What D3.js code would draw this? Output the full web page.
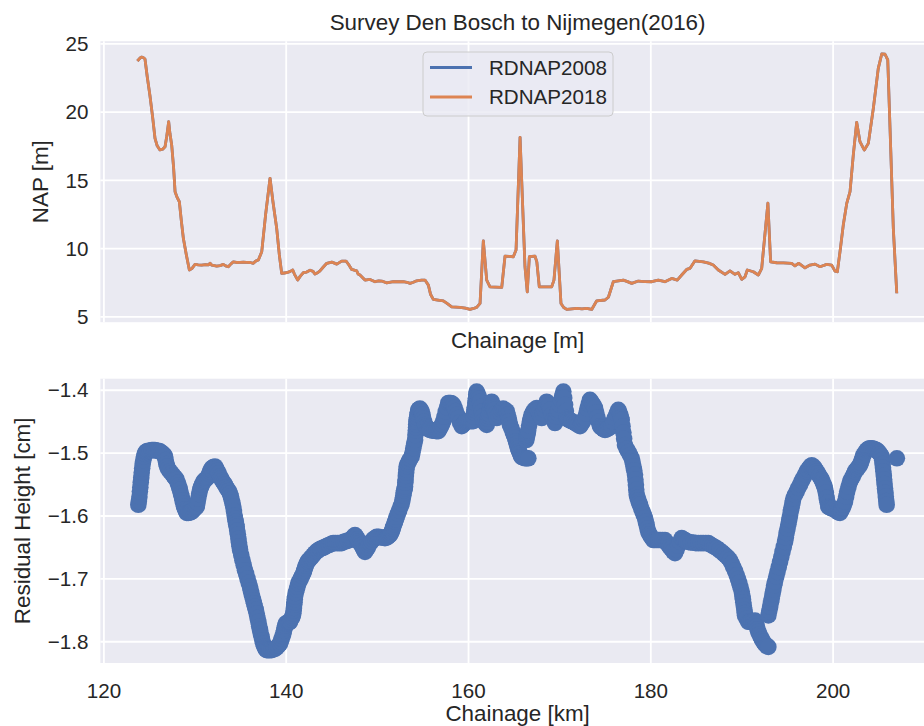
<!DOCTYPE html>
<html>
<head>
<meta charset="utf-8">
<script src="https://cdn.jsdelivr.net/npm/d3@7/dist/d3.min.js"></script>
<style>
  html, body { margin: 0; padding: 0; background: #ffffff; }
  svg { display: block; }
  text { font-family: "Liberation Sans", Arial, sans-serif; fill: #262626; }
</style>
</head>
<body>
<svg id="chart" width="924" height="726"></svg>
<script>
// ---- Survey profile: chainage [km] and NAP height [m] in both datums ----
const profileKm = [
  123.83, 124.05, 124.2, 124.4, 124.56, 124.8, 125.1, 125.4, 125.66, 125.9,
  126.2, 126.5, 126.76, 126.95, 127.16, 127.3, 127.49, 127.7, 127.86, 128.1,
  128.33, 128.55, 128.77, 129.1, 129.43, 129.7, 130.05, 130.4, 130.78, 131.2,
  131.55, 131.7, 131.9, 132.43, 132.8, 133.15, 133.4, 133.7, 134.0, 134.25,
  134.6, 134.99, 135.35, 135.72, 136.1, 136.45, 136.7, 137.0, 137.37, 137.8,
  138.28, 138.6, 139.01, 139.3, 139.56, 139.85, 140.11, 140.5, 140.77, 140.95,
  141.32, 141.6, 141.93, 142.3, 142.67, 143.0, 143.2, 143.5, 143.76, 144.1,
  144.5, 145.05, 145.35, 145.6, 146.14, 146.62, 146.9, 147.24, 147.79, 147.95,
  148.15, 148.5, 148.7, 149.25, 149.8, 150.2, 150.53, 151.08, 151.8, 152.4,
  152.9, 153.3, 153.64, 154.0, 154.37, 154.9, 155.28, 155.65, 155.9, 156.19,
  156.7, 157.29, 157.7, 158.21, 159.12, 159.7, 160.22, 160.6, 160.95, 161.32,
  161.68, 162.05, 162.41, 163.0, 163.7, 164.06, 164.5, 164.97, 165.27, 165.71,
  166.25, 166.5, 166.73, 167.0, 167.35, 167.55, 167.82, 168.5, 169.18, 169.43,
  169.8, 170.2, 170.5, 170.83, 171.4, 171.93, 172.5, 173.02, 173.57, 174.12,
  175.03, 175.4, 175.94, 176.5, 177.04, 177.5, 177.96, 178.68, 179.4, 180.15,
  180.88, 181.6, 182.35, 182.96, 183.44, 183.99, 184.36, 184.9, 185.82, 186.4,
  186.91, 187.46, 188.2, 188.74, 189.29, 189.65, 190.03, 190.39, 190.64, 191.3,
  191.85, 192.22, 192.9, 193.2, 193.87, 194.6, 195.51, 195.87, 196.3, 196.97,
  197.52, 198.07, 198.62, 199.35, 199.9, 200.26, 200.52, 200.81, 201.17, 201.55,
  201.91, 202.27, 202.64, 203.0, 203.48, 203.92, 204.47, 205.01, 205.39, 205.75,
  206.05, 206.3, 206.66, 207.03
];

const nap2008 = [
  23.79, 23.95, 24.0, 23.95, 23.86, 22.6, 21.2, 19.6, 18.05, 17.5,
  17.2, 17.25, 17.43, 18.2, 19.27, 18.4, 17.56, 15.9, 14.14, 13.7,
  13.4, 12.0, 10.72, 9.5, 8.4, 8.5, 8.81, 8.78, 8.76, 8.8,
  8.78, 8.89, 8.75, 8.69, 8.72, 8.81, 8.7, 8.64, 8.85, 9.0,
  8.95, 8.96, 8.97, 8.96, 8.95, 8.89, 9.05, 9.13, 9.74, 12.5,
  15.12, 13.4, 11.45, 9.5, 8.15, 8.18, 8.2, 8.3, 8.4, 8.1,
  7.66, 7.95, 8.2, 8.25, 8.38, 8.3, 8.1, 8.2, 8.34, 8.6,
  8.89, 8.98, 8.9, 8.83, 9.05, 9.05, 8.8, 8.44, 8.34, 8.1,
  8.03, 7.8, 7.66, 7.71, 7.54, 7.6, 7.59, 7.46, 7.54, 7.55,
  7.54, 7.5, 7.42, 7.5, 7.61, 7.65, 7.66, 7.29, 6.6, 6.25,
  6.2, 6.14, 5.95, 5.7, 5.66, 5.6, 5.51, 5.58, 5.66, 5.95,
  10.54, 7.66, 7.17, 7.15, 7.13, 9.42, 9.4, 9.37, 9.86, 18.12,
  8.64, 6.8, 9.37, 9.4, 9.42, 9.0, 7.17, 7.17, 7.17, 7.66,
  10.54, 5.95, 5.65, 5.51, 5.55, 5.59, 5.55, 5.59, 5.51, 6.14,
  6.2, 6.4, 7.54, 7.6, 7.66, 7.55, 7.42, 7.59, 7.55, 7.54,
  7.66, 7.54, 7.78, 7.66, 8.03, 8.44, 8.52, 9.07, 9.0, 8.9,
  8.76, 8.4, 8.08, 8.34, 8.08, 8.2, 7.71, 7.9, 8.4, 8.27,
  8.03, 8.52, 13.3, 9.0, 8.93, 8.92, 8.89, 8.71, 8.89, 8.56,
  8.76, 8.83, 8.64, 8.81, 8.76, 8.32, 8.27, 9.74, 11.69, 13.28,
  14.14, 16.83, 19.22, 17.8, 17.19, 17.68, 20.25, 23.18, 24.23, 24.21,
  23.79, 18.78, 11.45, 6.8
];

const nap2018 = [
  23.79, 23.95, 24.0, 23.95, 23.86, 22.6, 21.2, 19.6, 18.05, 17.5,
  17.2, 17.25, 17.43, 18.2, 19.27, 18.4, 17.56, 15.9, 14.14, 13.7,
  13.4, 12.0, 10.72, 9.5, 8.4, 8.5, 8.81, 8.78, 8.76, 8.8,
  8.78, 8.89, 8.75, 8.69, 8.72, 8.81, 8.7, 8.64, 8.85, 9.0,
  8.95, 8.96, 8.97, 8.96, 8.95, 8.89, 9.05, 9.13, 9.74, 12.5,
  15.12, 13.4, 11.45, 9.5, 8.15, 8.18, 8.2, 8.3, 8.4, 8.1,
  7.66, 7.95, 8.2, 8.25, 8.38, 8.3, 8.1, 8.2, 8.34, 8.6,
  8.89, 8.98, 8.9, 8.83, 9.05, 9.05, 8.8, 8.44, 8.34, 8.1,
  8.03, 7.8, 7.66, 7.71, 7.54, 7.6, 7.59, 7.46, 7.54, 7.55,
  7.54, 7.5, 7.42, 7.5, 7.61, 7.65, 7.66, 7.29, 6.6, 6.25,
  6.2, 6.14, 5.95, 5.7, 5.66, 5.6, 5.51, 5.58, 5.66, 5.95,
  10.54, 7.66, 7.17, 7.15, 7.13, 9.42, 9.4, 9.37, 9.86, 18.12,
  8.64, 6.8, 9.37, 9.4, 9.42, 9.0, 7.17, 7.17, 7.17, 7.66,
  10.54, 5.95, 5.65, 5.51, 5.55, 5.59, 5.55, 5.59, 5.51, 6.14,
  6.2, 6.4, 7.54, 7.6, 7.66, 7.55, 7.42, 7.59, 7.55, 7.54,
  7.66, 7.54, 7.78, 7.66, 8.03, 8.44, 8.52, 9.07, 9.0, 8.9,
  8.76, 8.4, 8.08, 8.34, 8.08, 8.2, 7.71, 7.9, 8.4, 8.27,
  8.03, 8.52, 13.3, 9.0, 8.93, 8.92, 8.89, 8.71, 8.89, 8.56,
  8.76, 8.83, 8.64, 8.81, 8.76, 8.32, 8.27, 9.74, 11.69, 13.28,
  14.14, 16.83, 19.22, 17.8, 17.19, 17.68, 20.25, 23.18, 24.23, 24.21,
  23.79, 18.78, 11.45, 6.8
];

// ---- Residual height between the datums: [chainage km, residual cm] ----
const residualPoints = [
  [123.83,-1.583],[123.89,-1.577],[123.95,-1.570],[124.0,-1.562],[124.05,-1.555],[124.1,-1.547],[124.15,-1.540],[124.2,-1.532],[124.25,-1.525],[124.31,-1.518],
  [124.38,-1.512],[124.46,-1.506],[124.55,-1.502],[124.65,-1.499],[124.75,-1.498],[124.92,-1.497],[125.1,-1.497],[125.3,-1.496],[125.47,-1.496],[125.65,-1.496],
  [125.85,-1.497],[126.02,-1.497],[126.2,-1.498],[126.38,-1.500],[126.55,-1.502],[126.66,-1.504],[126.76,-1.506],[126.83,-1.512],[126.9,-1.518],[127.0,-1.522],
  [127.1,-1.526],[127.3,-1.530],[127.49,-1.533],[127.65,-1.536],[127.8,-1.539],[127.92,-1.541],[128.04,-1.543],[128.15,-1.548],[128.25,-1.552],[128.33,-1.556],
  [128.4,-1.559],[128.5,-1.565],[128.6,-1.570],[128.68,-1.576],[128.77,-1.581],[128.86,-1.586],[128.95,-1.590],[129.05,-1.593],[129.14,-1.596],[129.3,-1.596],
  [129.45,-1.595],[129.57,-1.595],[129.69,-1.594],[129.82,-1.592],[129.95,-1.590],[130.1,-1.588],[130.24,-1.586],[130.32,-1.580],[130.4,-1.573],[130.5,-1.566],
  [130.6,-1.559],[130.7,-1.555],[130.8,-1.551],[130.96,-1.546],[131.1,-1.544],[131.25,-1.542],[131.38,-1.540],[131.51,-1.538],[131.6,-1.534],[131.7,-1.530],
  [131.8,-1.527],[131.88,-1.525],[132.05,-1.523],[132.24,-1.522],[132.37,-1.525],[132.5,-1.529],[132.65,-1.533],[132.79,-1.538],[132.92,-1.541],[133.05,-1.545],
  [133.2,-1.548],[133.34,-1.551],[133.47,-1.555],[133.6,-1.558],[133.75,-1.561],[133.89,-1.565],[133.97,-1.569],[134.05,-1.574],[134.15,-1.580],[134.25,-1.586],
  [134.32,-1.593],[134.4,-1.600],[134.46,-1.605],[134.52,-1.610],[134.57,-1.614],[134.62,-1.618],[134.68,-1.624],[134.75,-1.630],[134.81,-1.637],[134.87,-1.643],
  [134.93,-1.649],[134.99,-1.655],[135.12,-1.663],[135.25,-1.671],[135.39,-1.679],[135.53,-1.687],[135.66,-1.693],[135.8,-1.700],[135.94,-1.707],[136.08,-1.713],
  [136.16,-1.719],[136.25,-1.724],[136.35,-1.730],[136.45,-1.735],[136.54,-1.740],[136.63,-1.745],[136.72,-1.750],[136.82,-1.756],[136.91,-1.763],[137.0,-1.769],
  [137.09,-1.776],[137.18,-1.782],[137.27,-1.788],[137.36,-1.793],[137.45,-1.799],[137.54,-1.804],[137.64,-1.808],[137.75,-1.811],[137.83,-1.813],[137.91,-1.814],
  [138.08,-1.814],[138.25,-1.814],[138.45,-1.814],[138.64,-1.813],[138.82,-1.812],[139.0,-1.810],[139.18,-1.807],[139.37,-1.804],[139.46,-1.800],[139.55,-1.796],
  [139.65,-1.792],[139.74,-1.788],[139.81,-1.783],[139.88,-1.779],[139.94,-1.775],[140.0,-1.772],[140.12,-1.771],[140.25,-1.770],[140.36,-1.770],[140.47,-1.769],
  [140.58,-1.765],[140.7,-1.762],[140.77,-1.759],[140.83,-1.756],[140.87,-1.751],[140.9,-1.747],[140.93,-1.742],[140.96,-1.738],[140.99,-1.733],[141.02,-1.729],
  [141.11,-1.723],[141.2,-1.718],[141.29,-1.713],[141.38,-1.708],[141.52,-1.704],[141.65,-1.700],[141.79,-1.696],[141.93,-1.692],[142.02,-1.688],[142.1,-1.684],
  [142.2,-1.680],[142.3,-1.676],[142.42,-1.673],[142.55,-1.671],[142.7,-1.668],[142.85,-1.666],[143.02,-1.663],[143.2,-1.660],[143.4,-1.657],[143.58,-1.655],
  [143.8,-1.653],[144.0,-1.652],[144.15,-1.651],[144.31,-1.650],[144.53,-1.648],[144.75,-1.647],[145.0,-1.645],[145.22,-1.644],[145.45,-1.644],[145.7,-1.644],
  [145.92,-1.644],[146.14,-1.644],[146.37,-1.642],[146.6,-1.641],[146.82,-1.640],[147.05,-1.639],[147.2,-1.637],[147.35,-1.635],[147.47,-1.633],[147.6,-1.631],
  [147.75,-1.634],[147.9,-1.638],[148.02,-1.641],[148.15,-1.644],[148.3,-1.647],[148.45,-1.651],[148.58,-1.655],[148.7,-1.658],[148.85,-1.654],[149.0,-1.651],
  [149.12,-1.647],[149.25,-1.644],[149.42,-1.641],[149.6,-1.638],[149.8,-1.636],[149.98,-1.634],[150.2,-1.634],[150.45,-1.635],[150.67,-1.635],[150.89,-1.636],
  [151.05,-1.635],[151.2,-1.634],[151.32,-1.632],[151.44,-1.631],[151.55,-1.628],[151.65,-1.625],[151.72,-1.621],[151.8,-1.618],[151.9,-1.614],[152.0,-1.610],
  [152.09,-1.606],[152.18,-1.602],[152.31,-1.597],[152.45,-1.592],[152.59,-1.586],[152.73,-1.581],[152.82,-1.575],[152.9,-1.568],[152.95,-1.564],[153.0,-1.560],
  [153.05,-1.557],[153.09,-1.554],[153.12,-1.548],[153.15,-1.543],[153.18,-1.537],[153.21,-1.532],[153.24,-1.527],[153.27,-1.522],[153.38,-1.518],[153.5,-1.514],
  [153.66,-1.510],[153.82,-1.506],[153.91,-1.500],[154.0,-1.493],[154.1,-1.486],[154.19,-1.480],[154.23,-1.472],[154.27,-1.465],[154.3,-1.460],[154.32,-1.455],
  [154.35,-1.451],[154.37,-1.448],[154.41,-1.444],[154.45,-1.440],[154.5,-1.436],[154.55,-1.432],[154.63,-1.431],[154.72,-1.430],[154.82,-1.432],[154.92,-1.435],
  [155.01,-1.440],[155.1,-1.446],[155.19,-1.451],[155.28,-1.456],[155.41,-1.459],[155.55,-1.461],[155.69,-1.463],[155.83,-1.464],[156.07,-1.465],[156.3,-1.465],
  [156.52,-1.466],[156.74,-1.466],[156.87,-1.463],[157.0,-1.459],[157.15,-1.455],[157.29,-1.450],[157.42,-1.443],[157.55,-1.435],[157.7,-1.428],[157.84,-1.421],
  [157.97,-1.421],[158.1,-1.421],[158.25,-1.422],[158.39,-1.424],[158.52,-1.429],[158.65,-1.434],[158.8,-1.440],[158.94,-1.445],[159.12,-1.452],[159.31,-1.458],
  [159.45,-1.456],[159.6,-1.453],[159.73,-1.451],[159.86,-1.450],[160.03,-1.450],[160.2,-1.450],[160.4,-1.450],[160.58,-1.450],[160.63,-1.443],[160.67,-1.436],
  [160.71,-1.432],[160.75,-1.428],[160.8,-1.421],[160.85,-1.414],[160.9,-1.408],[160.95,-1.403],[161.05,-1.406],[161.15,-1.410],[161.24,-1.414],[161.32,-1.419],
  [161.41,-1.427],[161.5,-1.435],[161.59,-1.443],[161.68,-1.450],[161.87,-1.453],[162.05,-1.456],[162.12,-1.451],[162.18,-1.446],[162.24,-1.442],[162.3,-1.438],
  [162.38,-1.433],[162.45,-1.428],[162.52,-1.424],[162.6,-1.419],[162.68,-1.423],[162.75,-1.426],[162.83,-1.429],[162.9,-1.432],[163.02,-1.438],[163.15,-1.445],
  [163.32,-1.440],[163.5,-1.436],[163.68,-1.432],[163.85,-1.430],[164.05,-1.432],[164.25,-1.434],[164.35,-1.440],[164.45,-1.445],[164.52,-1.450],[164.6,-1.456],
  [164.75,-1.461],[164.9,-1.467],[165.03,-1.472],[165.17,-1.477],[165.26,-1.482],[165.35,-1.486],[165.42,-1.490],[165.5,-1.494],[165.6,-1.498],[165.7,-1.501],
  [165.8,-1.505],[165.9,-1.507],[166.07,-1.508],[166.25,-1.509],[166.43,-1.509],[166.62,-1.509],
  [166.4,-1.480],[166.45,-1.475],[166.5,-1.472],[166.55,-1.468],[166.6,-1.465],[166.7,-1.457],[166.8,-1.450],[166.89,-1.445],[166.98,-1.440],[167.11,-1.436],
  [167.25,-1.433],[167.4,-1.431],[167.54,-1.429],[167.67,-1.433],[167.8,-1.437],[167.94,-1.441],[168.08,-1.445],[168.22,-1.438],[168.35,-1.432],[168.49,-1.425],
  [168.63,-1.419],[168.77,-1.422],[168.9,-1.425],[169.05,-1.432],[169.2,-1.440],[169.37,-1.447],[169.54,-1.453],[169.62,-1.448],[169.7,-1.443],[169.8,-1.437],
  [169.9,-1.432],[170.05,-1.424],[170.2,-1.417],[170.33,-1.410],[170.46,-1.403],[170.55,-1.413],[170.65,-1.424],[170.74,-1.434],[170.83,-1.445],[170.97,-1.447],
  [171.1,-1.448],[171.24,-1.449],[171.38,-1.450],[171.62,-1.452],[171.85,-1.454],[172.07,-1.456],[172.29,-1.458],[172.42,-1.455],[172.55,-1.452],[172.7,-1.448],
  [172.84,-1.445],[172.97,-1.438],[173.1,-1.430],[173.24,-1.423],[173.38,-1.416],[173.51,-1.419],[173.65,-1.422],[173.79,-1.425],[173.93,-1.429],[174.06,-1.436],
  [174.2,-1.444],[174.34,-1.451],[174.48,-1.458],[174.62,-1.460],[174.75,-1.461],[174.89,-1.463],[175.03,-1.464],[175.22,-1.463],[175.4,-1.461],[175.58,-1.460],
  [175.76,-1.458],[175.93,-1.451],[176.1,-1.445],[176.3,-1.438],[176.49,-1.432],[176.6,-1.436],[176.7,-1.440],[176.78,-1.444],[176.86,-1.448],[176.95,-1.458],
  [177.05,-1.468],[177.13,-1.478],[177.22,-1.488],[177.41,-1.494],[177.6,-1.499],[177.78,-1.504],[177.96,-1.509],[178.05,-1.515],[178.15,-1.522],[178.23,-1.528],
  [178.32,-1.535],[178.37,-1.543],[178.42,-1.551],[178.46,-1.559],[178.51,-1.567],[178.6,-1.572],[178.7,-1.576],[178.78,-1.580],[178.87,-1.583],[179.01,-1.589],
  [179.15,-1.594],[179.28,-1.599],[179.42,-1.604],[179.51,-1.610],[179.6,-1.615],[179.69,-1.621],[179.78,-1.626],[179.91,-1.630],[180.05,-1.633],[180.19,-1.636],
  [180.33,-1.639],[180.5,-1.639],[180.7,-1.639],[180.9,-1.639],[181.1,-1.639],[181.35,-1.639],[181.61,-1.639],[181.78,-1.643],[181.95,-1.646],[182.12,-1.650],
  [182.3,-1.653],[182.5,-1.657],[182.71,-1.660],[182.88,-1.654],[183.05,-1.648],[183.25,-1.642],[183.44,-1.636],[183.62,-1.638],[183.8,-1.639],[183.98,-1.641],
  [184.17,-1.642],[184.45,-1.643],[184.7,-1.643],[185.0,-1.644],[185.27,-1.644],[185.55,-1.644],[185.8,-1.644],[186.08,-1.644],[186.36,-1.644],[186.58,-1.646],
  [186.8,-1.648],[187.05,-1.650],[187.29,-1.652],[187.56,-1.655],[187.83,-1.658],[188.07,-1.661],[188.3,-1.664],[188.52,-1.667],[188.74,-1.671],[188.92,-1.676],
  [189.1,-1.682],[189.29,-1.688],[189.48,-1.695],[189.62,-1.701],[189.75,-1.707],[189.89,-1.714],[190.03,-1.721],[190.1,-1.728],[190.16,-1.733],[190.2,-1.738],
  [190.26,-1.744],[190.32,-1.750],[190.36,-1.755],[190.39,-1.759],[190.57,-1.764],[190.75,-1.769],[190.92,-1.769],[191.1,-1.768],[191.3,-1.768],[191.49,-1.767],
  [191.58,-1.772],[191.68,-1.776],[191.76,-1.781],[191.85,-1.785],[191.97,-1.789],[192.1,-1.793],[192.25,-1.797],[192.4,-1.801],[192.55,-1.804],[192.7,-1.806],
  [192.82,-1.808],[192.95,-1.809],
  [192.95,-1.759],[193.05,-1.752],[193.15,-1.745],[193.24,-1.738],[193.32,-1.732],[193.41,-1.725],[193.5,-1.718],[193.59,-1.711],[193.68,-1.705],[193.82,-1.697],
  [193.95,-1.690],[194.09,-1.682],[194.23,-1.674],[194.37,-1.666],[194.5,-1.658],[194.64,-1.650],[194.78,-1.642],[194.87,-1.635],[194.95,-1.628],[195.05,-1.621],
  [195.15,-1.614],[195.24,-1.607],[195.33,-1.600],[195.42,-1.593],[195.5,-1.587],[195.6,-1.580],[195.69,-1.573],[195.87,-1.567],[196.05,-1.562],[196.24,-1.556],
  [196.43,-1.551],[196.62,-1.545],[196.8,-1.540],[196.98,-1.535],[197.16,-1.530],[197.3,-1.527],[197.45,-1.524],[197.58,-1.522],[197.71,-1.520],[197.85,-1.522],
  [198.0,-1.524],[198.13,-1.527],[198.26,-1.530],[198.4,-1.533],[198.55,-1.537],[198.68,-1.540],[198.81,-1.543],[198.9,-1.546],[199.0,-1.550],[199.08,-1.553],
  [199.17,-1.557],[199.26,-1.564],[199.35,-1.572],[199.44,-1.579],[199.53,-1.586],[199.66,-1.587],[199.8,-1.588],[199.94,-1.589],[200.08,-1.589],[200.27,-1.591],
  [200.45,-1.593],[200.63,-1.595],[200.81,-1.596],[200.95,-1.592],[201.1,-1.588],[201.23,-1.583],[201.36,-1.578],[201.48,-1.570],[201.6,-1.562],[201.75,-1.554],
  [201.91,-1.546],[202.05,-1.542],[202.2,-1.538],[202.33,-1.534],[202.46,-1.530],[202.6,-1.527],[202.75,-1.525],[202.88,-1.522],[203.0,-1.520],[203.1,-1.516],
  [203.2,-1.512],[203.28,-1.508],[203.37,-1.504],[203.55,-1.500],[203.74,-1.496],[203.92,-1.494],[204.1,-1.493],[204.3,-1.493],[204.5,-1.494],[204.67,-1.495],
  [204.83,-1.496],[204.97,-1.498],[205.1,-1.500],[205.25,-1.503],[205.39,-1.506],[205.44,-1.512],[205.48,-1.518],[205.53,-1.524],[205.57,-1.530],[205.62,-1.537],
  [205.66,-1.543],[205.7,-1.550],[205.75,-1.557],[205.8,-1.564],[205.84,-1.570],[205.89,-1.577],[205.93,-1.583],
  [207.05,-1.509]
];

const kmTicks = [120, 140, 160, 180, 200];
const napTicks = [5, 10, 15, 20, 25];
const residualTicks = [-1.8, -1.7, -1.6, -1.5, -1.4];
const seriesNames = ["RDNAP2008", "RDNAP2018"];
const seriesColors = ["#4C72B0", "#DD8452"];

// ---- Layout ----
const svg = d3.select("#chart");
const plotLeft = 100.4, plotRight = 934.8;
const top1 = 41.2, bottom1 = 322.2;
const top2 = 378.7, bottom2 = 663;
const bg = "#EAEAF2";
const tickFont = "20.6px";
const labelFont = "22.4px";
const fmtMinus = v => d3.format(".1f")(v).replace("-", "\u2212");

// matplotlib-style 5% margins around the data range
function padded(ext) {
  const p = (ext[1] - ext[0]) * 0.05;
  return [ext[0] - p, ext[1] + p];
}

const residualKm = residualPoints.map(d => d[0]);
const residualCm = residualPoints.map(d => d[1]);

const x = d3.scaleLinear()
  .domain(padded(d3.extent(profileKm.concat(residualKm))))
  .range([plotLeft, plotRight]);
const y1 = d3.scaleLinear()
  .domain(padded(d3.extent(nap2008.concat(nap2018))))
  .range([bottom1, top1]);
const y2 = d3.scaleLinear()
  .domain(padded(d3.extent(residualCm)))
  .range([bottom2, top2]);

const defs = svg.append("defs");
defs.append("clipPath").attr("id", "clipTop")
  .append("rect").attr("x", plotLeft).attr("y", top1)
  .attr("width", plotRight - plotLeft).attr("height", bottom1 - top1);
defs.append("clipPath").attr("id", "clipBottom")
  .append("rect").attr("x", plotLeft).attr("y", top2)
  .attr("width", plotRight - plotLeft).attr("height", bottom2 - top2);

function panel(yScale, yTicks, yTop, yBottom, fmt) {
  const g = svg.append("g");
  g.append("rect")
    .attr("x", plotLeft).attr("y", yTop)
    .attr("width", plotRight - plotLeft).attr("height", yBottom - yTop)
    .attr("fill", bg);
  // vertical grid
  g.append("g")
    .attr("transform", `translate(0,${yBottom})`)
    .call(d3.axisBottom(x).tickValues(kmTicks).tickSize(-(yBottom - yTop)).tickFormat(""))
    .call(a => a.select(".domain").remove())
    .call(a => a.selectAll("line").attr("stroke", "#ffffff").attr("stroke-width", 1.8));
  // horizontal grid + tick labels
  g.append("g")
    .attr("transform", `translate(${plotLeft},0)`)
    .call(d3.axisLeft(yScale).tickValues(yTicks).tickSize(-(plotRight - plotLeft)).tickPadding(12).tickFormat(fmt))
    .call(a => a.select(".domain").remove())
    .call(a => a.selectAll("line").attr("stroke", "#ffffff").attr("stroke-width", 1.8))
    .call(a => a.selectAll("text")
      .attr("font-size", tickFont)
      .attr("font-family", '"Liberation Sans", Arial, sans-serif')
      .attr("fill", "#262626")
      .attr("dy", "0.35em"));
  return g;
}

// ---- Top panel: NAP profile ----
panel(y1, napTicks, top1, bottom1, d3.format("d"));

const line = d3.line().x(d => x(d[0])).y(d => y1(d[1]));
const series = [nap2008, nap2018];
const lines = svg.append("g").attr("clip-path", "url(#clipTop)");
series.forEach((vals, i) => {
  lines.append("path")
    .datum(profileKm.map((k, j) => [k, vals[j]]))
    .attr("d", line)
    .attr("fill", "none")
    .attr("stroke", seriesColors[i])
    .attr("stroke-width", 2.8)
    .attr("stroke-linejoin", "round")
    .attr("stroke-linecap", "square");
});

// legend
const leg = svg.append("g");
leg.append("rect")
  .attr("x", 423).attr("y", 52).attr("width", 190).attr("height", 64)
  .attr("rx", 4).attr("ry", 4)
  .attr("fill", bg).attr("fill-opacity", 0.8)
  .attr("stroke", "#cccccc").attr("stroke-width", 1);
seriesNames.forEach((name, i) => {
  const yy = 67.5 + i * 29.5;
  leg.append("line")
    .attr("x1", 430).attr("x2", 472).attr("y1", yy).attr("y2", yy)
    .attr("stroke", seriesColors[i]).attr("stroke-width", 2.8);
  leg.append("text")
    .attr("x", 489).attr("y", yy).attr("dy", "0.35em")
    .attr("font-size", tickFont)
    .text(name);
});

// ---- Bottom panel: residual heights ----
panel(y2, residualTicks, top2, bottom2, fmtMinus);

// x tick labels on the shared axis
svg.append("g")
  .attr("transform", `translate(0,${bottom2})`)
  .call(d3.axisBottom(x).tickValues(kmTicks).tickSize(0).tickPadding(20).tickFormat(d3.format("d")))
  .call(a => a.select(".domain").remove())
  .call(a => a.selectAll("text")
    .attr("font-size", tickFont)
    .attr("font-family", '"Liberation Sans", Arial, sans-serif')
    .attr("fill", "#262626"));

svg.append("g").attr("clip-path", "url(#clipBottom)")
  .selectAll("circle")
  .data(residualPoints)
  .join("circle")
  .attr("cx", d => x(d[0]))
  .attr("cy", d => y2(d[1]))
  .attr("r", 8.3)
  .attr("fill", "#4C72B0");

// ---- Titles and axis labels ----
const midX = (plotLeft + plotRight) / 2;
svg.append("text").attr("x", midX).attr("y", 30)
  .attr("text-anchor", "middle").attr("font-size", labelFont)
  .text("Survey Den Bosch to Nijmegen(2016)");
svg.append("text").attr("x", midX).attr("y", 348)
  .attr("text-anchor", "middle").attr("font-size", labelFont)
  .text("Chainage [m]");
svg.append("text").attr("x", midX).attr("y", 721)
  .attr("text-anchor", "middle").attr("font-size", labelFont)
  .text("Chainage [km]");
svg.append("text")
  .attr("transform", `translate(48,${(top1 + bottom1) / 2}) rotate(-90)`)
  .attr("text-anchor", "middle").attr("font-size", labelFont)
  .text("NAP [m]");
svg.append("text")
  .attr("transform", `translate(30,${(top2 + bottom2) / 2}) rotate(-90)`)
  .attr("text-anchor", "middle").attr("font-size", labelFont)
  .text("Residual Height [cm]");
</script>
</body>
</html>
